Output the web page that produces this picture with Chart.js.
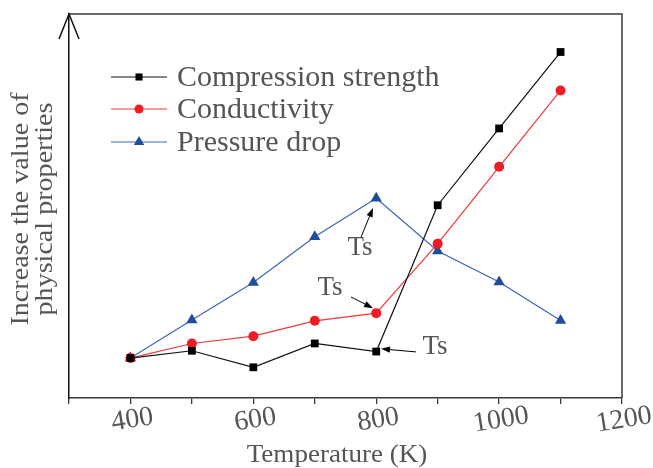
<!DOCTYPE html>
<html>
<head>
<meta charset="utf-8">
<script src="https://cdn.jsdelivr.net/npm/chart.js@4.4.1/dist/chart.umd.min.js"></script>
<style>
html,body{margin:0;padding:0;background:#fff;}
#wrap{width:653px;height:468px;}
</style>
</head>
<body>
<div id="wrap"><canvas id="c" width="653" height="468"></canvas></div>
<script>
const temps = [400, 500, 600, 700, 800, 900, 1000, 1100];
const compression = [10.4, 12.3, 8.0, 14.2, 12.1, 50.2, 70.2, 90.1];
const conductivity = [10.4, 14.2, 16.1, 20.1, 22.1, 40.2, 60.2, 80.1];
const pressureDrop = [10.4, 20.3, 30.1, 42.0, 52.0, 38.3, 30.2, 20.2];
const seriesNames = ['Compression strength', 'Conductivity', 'Pressure drop'];
const xTickLabels = [400, 600, 800, 1000, 1200];
const xTitle = 'Temperature (K)';
const yTitleLines = ['Increase the value of', 'physical properties'];
const tsNotes = [
  {text: 'Ts', tx: 773.6, ty: 39.1, ax0: 775.3, ay0: 41.9, ax1: 794.8, ay1: 49.5},
  {text: 'Ts', tx: 724.8, ty: 28.6, ax0: 759.0, ay0: 26.3, ax1: 794.8, ay1: 23.4},
  {text: 'Ts', tx: 895.7, ty: 13.3, ax0: 864.8, ay0: 12.0, ax1: 807.8, ay1: 12.8}
];

const SERIF = '"Liberation Serif", "DejaVu Serif", serif';
const TEXT = '#555555';
const AXIS = '#3a3a3a';

function mk(data) { return temps.map((t, i) => ({x: t, y: data[i]})); }

const datasets = [
  {label: seriesNames[0], data: mk(compression), borderColor: '#111', backgroundColor: '#000',
   pointStyle: 'rect', pointRadius: 5.5, borderWidth: 1.2, pointBorderWidth: 0},
  {label: seriesNames[1], data: mk(conductivity), borderColor: '#f03a3a', backgroundColor: '#ee1c25',
   pointStyle: 'circle', pointRadius: 5, borderWidth: 1.2, pointBorderWidth: 0},
  {label: seriesNames[2], data: mk(pressureDrop), borderColor: '#3b66bb', backgroundColor: '#1f4d9e',
   pointStyle: 'triangle', pointRadius: 6.5, borderWidth: 1.2, pointBorderWidth: 0}
];

function arrow(ctx, x0, y0, x1, y1) {
  ctx.save();
  ctx.strokeStyle = '#000'; ctx.fillStyle = '#000'; ctx.lineWidth = 1;
  const a = Math.atan2(y1 - y0, x1 - x0);
  const L = 9, W = 3.2;
  const bx = x1 - Math.cos(a) * L, by = y1 - Math.sin(a) * L;
  ctx.beginPath(); ctx.moveTo(x0, y0); ctx.lineTo(bx, by); ctx.stroke();
  ctx.beginPath();
  ctx.moveTo(x1, y1);
  ctx.lineTo(bx + Math.sin(a) * W, by - Math.cos(a) * W);
  ctx.lineTo(bx - Math.sin(a) * W, by + Math.cos(a) * W);
  ctx.closePath(); ctx.fill();
  ctx.restore();
}

const deco = {
  id: 'deco',
  afterDraw(chart) {
    const ctx = chart.ctx, ca = chart.chartArea;
    const xs = chart.scales.x, ys = chart.scales.y;
    ctx.save();
    // top and right frame
    ctx.strokeStyle = AXIS; ctx.lineWidth = 1.5;
    ctx.beginPath();
    ctx.moveTo(ca.left, ca.top); ctx.lineTo(ca.right, ca.top); ctx.lineTo(ca.right, ca.bottom);
    ctx.stroke();
    // y arrow head
    ctx.strokeStyle = '#111'; ctx.lineWidth = 1.5;
    ctx.beginPath();
    ctx.moveTo(ca.left - 10, ca.top + 25); ctx.lineTo(ca.left, ca.top); ctx.lineTo(ca.left + 10, ca.top + 25);
    ctx.stroke();
    // x tick labels (slightly rotated)
    ctx.fillStyle = TEXT;
    ctx.font = '28px ' + SERIF;
    ctx.textAlign = 'center'; ctx.textBaseline = 'middle';
    xTickLabels.forEach(v => {
      const px = xs.getPixelForValue(v);
      ctx.save();
      ctx.translate(px + 2, ca.bottom + 22);
      ctx.rotate(-9 * Math.PI / 180);
      ctx.fillText(String(v), 0, 0);
      ctx.restore();
    });
    // x title
    ctx.save();
    ctx.translate(337, ca.bottom + 57);
    ctx.scale(1.04, 1);
    ctx.font = '26px ' + SERIF;
    ctx.fillText(xTitle, 0, 0);
    ctx.restore();
    // y title
    ctx.save();
    ctx.translate(21, 209);
    ctx.rotate(-Math.PI / 2);
    ctx.scale(1.08, 1);
    ctx.font = '26px ' + SERIF;
    ctx.fillText(yTitleLines[0], 0, 0);
    ctx.fillText(yTitleLines[1], 0, 24);
    ctx.restore();
    // legend
    const rows = [77, 109, 142];
    chart.data.datasets.forEach((ds, i) => {
      const y = rows[i];
      ctx.strokeStyle = ds.borderColor; ctx.lineWidth = 1.2;
      ctx.beginPath(); ctx.moveTo(111, y); ctx.lineTo(167, y); ctx.stroke();
      ctx.fillStyle = ds.backgroundColor;
      Chart.helpers.drawPoint(ctx, {pointStyle: ds.pointStyle, radius: ds.pointRadius - 0.5, borderWidth: 0}, 139, y);
      ctx.fillStyle = TEXT;
      ctx.font = '30px ' + SERIF;
      ctx.textAlign = 'left'; ctx.textBaseline = 'middle';
      ctx.fillText(ds.label, 177, y + 1);
    });
    // Ts annotations
    ctx.font = '27px ' + SERIF;
    ctx.textAlign = 'center'; ctx.textBaseline = 'middle';
    tsNotes.forEach(n => {
      ctx.fillStyle = TEXT;
      ctx.fillText(n.text, xs.getPixelForValue(n.tx), ys.getPixelForValue(n.ty));
      arrow(ctx, xs.getPixelForValue(n.ax0), ys.getPixelForValue(n.ay0),
                 xs.getPixelForValue(n.ax1), ys.getPixelForValue(n.ay1));
    });
    ctx.restore();
  }
};

new Chart(document.getElementById('c'), {
  type: 'line',
  data: {datasets},
  options: {
    responsive: false,
    animation: false,
    layout: {padding: {left: 69, top: 14, right: 31, bottom: 64}},
    plugins: {legend: {display: false}, tooltip: {enabled: false}},
    elements: {line: {tension: 0}},
    scales: {
      x: {
        type: 'linear', min: 300, max: 1200,
        ticks: {stepSize: 100, display: false},
        grid: {drawOnChartArea: false, drawTicks: true, tickLength: 6, color: AXIS, lineWidth: 1.3},
        border: {display: true, color: AXIS, width: 1.5}
      },
      y: {
        type: 'linear', min: 0, max: 100,
        ticks: {display: false},
        grid: {drawOnChartArea: false, drawTicks: false},
        border: {display: true, color: '#111', width: 1.5}
      }
    }
  },
  plugins: [deco]
});
</script>
</body>
</html>
